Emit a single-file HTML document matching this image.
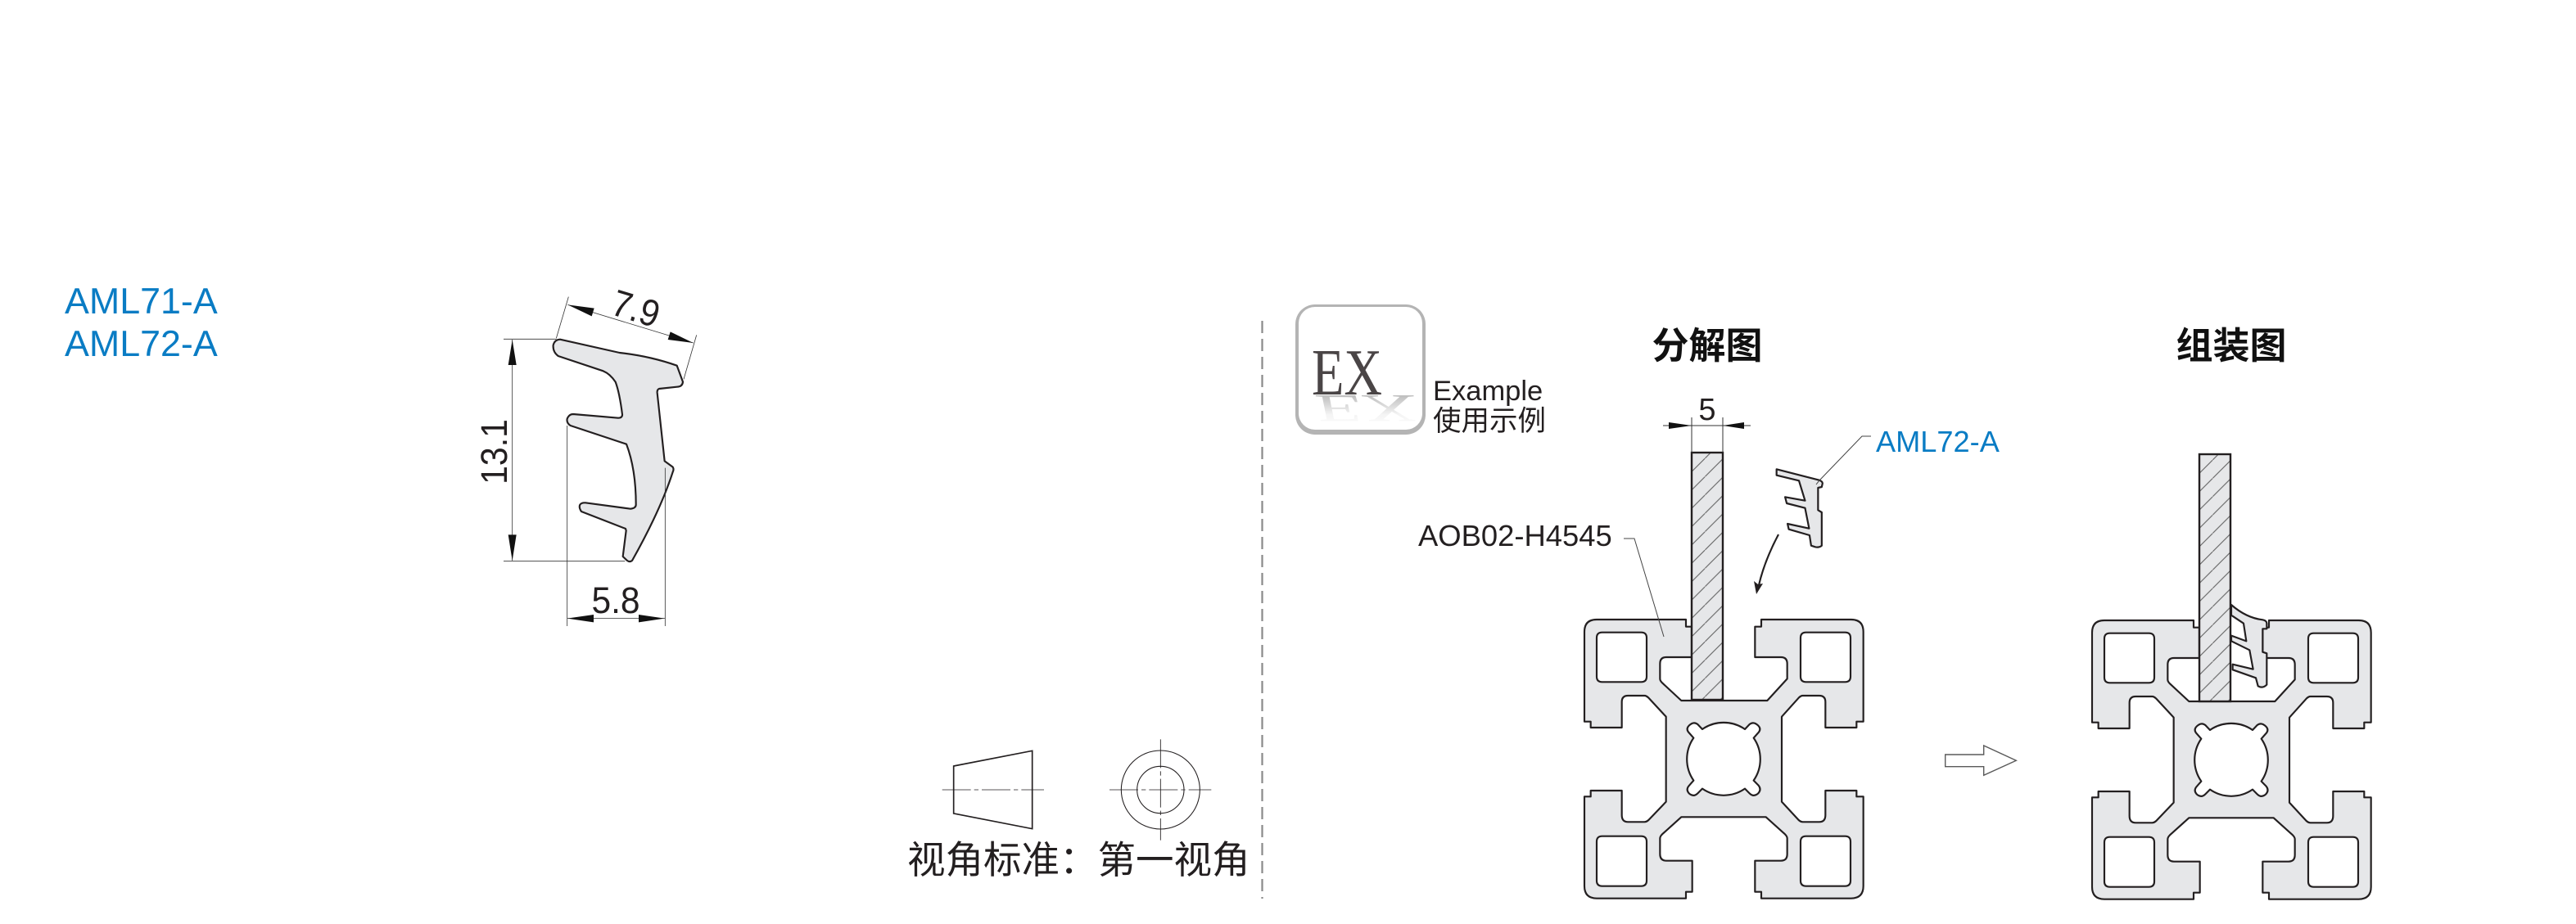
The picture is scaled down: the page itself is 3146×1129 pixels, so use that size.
<!DOCTYPE html>
<html lang="zh">
<head>
<meta charset="utf-8">
<style>
html,body{margin:0;padding:0;background:#fff}
svg{display:block}
text{font-family:"Liberation Sans","Noto Sans CJK SC",sans-serif}
</style>
</head>
<body>
<svg width="3146" height="1129" viewBox="0 0 3146 1129" xmlns="http://www.w3.org/2000/svg">
<defs>
<pattern id="hatch" patternUnits="userSpaceOnUse" x="-0.9" y="0" width="22.4" height="22.4">
<path d="M-2,24.4 L24.4,-2" stroke="#5a5a5a" stroke-width="1" fill="none"/>
</pattern>
<linearGradient id="refl" x1="0" y1="0" x2="0" y2="1">
<stop offset="0" stop-color="#ffffff"/>
<stop offset="0.35" stop-color="#f4f4f4"/>
<stop offset="0.8" stop-color="#bdbdbd"/>
<stop offset="1" stop-color="#b5b5b5"/>
</linearGradient>
<g id="profile">
<path fill="#e6e7e9" stroke="#231f20" stroke-width="6.5" stroke-linejoin="round" fill-rule="evenodd" d="M498,74 L477,74 L477,48 L150,48 Q105,48 105,93 L105,422 L128,422 L128,444 L242,444 L242,350 Q242,327 265,327 L325,327 Q332,327 340,335 L404,404 L404,716 L340,783 Q332,790 325,790 L265,790 Q242,790 242,765 L242,675 L128,675 L128,697 L105,697 L105,1025 Q105,1070 150,1070 L477,1070 L477,1046 L500,1046 L500,932 L405,932 Q382,932 382,908 L382,850 Q382,843 390,835 L460,772 L770,772 L840,835 Q848,843 848,850 L848,908 Q848,932 825,932 L730,932 L730,1046 L753,1046 L753,1070 L1082,1070 Q1127,1070 1127,1025 L1127,697 L1102,697 L1102,675 L988,675 L988,765 Q988,790 965,790 L905,790 Q898,790 890,783 L828,716 L828,404 L890,335 Q898,327 905,327 L965,327 Q988,327 988,350 L988,444 L1102,444 L1102,422 L1127,422 L1127,93 Q1127,48 1082,48 L753,48 L753,74 L730,74 L730,186 L825,186 Q848,186 848,210 L848,265 L775,345 L460,345 L390,280 Q382,272 382,265 L382,210 Q382,186 405,186 L498,186 Z
M170,95 L313,95 Q333,95 333,115 L333,257 Q333,277 313,277 L170,277 Q150,277 150,257 L150,115 Q150,95 170,95 Z
M917,95 L1060,95 Q1080,95 1080,115 L1080,257 Q1080,277 1060,277 L917,277 Q897,277 897,257 L897,115 Q897,95 917,95 Z
M170,842 L313,842 Q333,842 333,862 L333,1005 Q333,1025 313,1025 L170,1025 Q150,1025 150,1005 L150,862 Q150,842 170,842 Z
M917,842 L1060,842 Q1080,842 1080,862 L1080,1005 Q1080,1025 1060,1025 L917,1025 Q897,1025 897,1005 L897,862 Q897,842 917,842 Z
M537,450 A137,137 0 0 1 693,450 L710,432 Q725,420 742,437 Q755,450 740,465 L725,482 A137,137 0 0 1 725,638 L742,655 Q755,670 742,685 Q725,700 710,685 L693,668 A137,137 0 0 1 537,668 L520,685 Q505,700 488,685 Q475,670 490,655 L505,638 A137,137 0 0 1 505,482 L490,465 Q475,450 488,437 Q505,420 520,432 Z"/>
</g>
<g id="plate">
<rect x="2066" y="553" width="38" height="302" fill="#e6e7e9"/>
<rect x="2066" y="553" width="38" height="302" fill="url(#hatch)"/>
<rect x="2066" y="553" width="38" height="302" fill="none" stroke="#231f20" stroke-width="2.4"/>
</g>
</defs>

<!-- left labels -->
<text x="79" y="383" font-size="44.8" fill="#0a7cc4">AML71-A</text>
<text x="79" y="435" font-size="44.8" fill="#0a7cc4">AML72-A</text>

<!-- big seal with dimensions -->
<g transform="translate(560,320) scale(0.33333)">
<path d="M165,283 H358 M165,1097 H610 M197,285 V1095 M398,600 V1335 M757,755 V1335 M398,1307 H757 M403,128 L358,280 M872,268 L825,430 M400,157 L860,297" stroke="#333" stroke-width="2.4" fill="none"/>
<path d="M372,284 L590,333 Q700,345 800,380 L822,440 Q820,458 800,458 L735,465 Q727,468 728,480 L755,730 L785,752 Q790,760 785,770 Q740,910 636,1095 Q628,1102 618,1095 L602,1080 L614,985 L612,978 L450,915 Q440,900 445,890 Q450,882 465,883 L630,905 Q650,903 650,890 Q650,760 615,668 L410,600 Q395,590 398,575 Q405,558 420,558 L585,572 Q600,572 600,560 Q590,480 575,440 Q555,410 530,400 L365,345 Q345,330 347,305 Q352,285 372,284 Z" fill="#e6e7e9" stroke="#231f20" stroke-width="6.5" stroke-linejoin="round"/>
<path d="M757,755 V860" stroke="#333" stroke-width="2.4"/>
<path fill="#111" d="M197,285 L212,378 L182,378 Z M197,1095 L182,1000 L212,1000 Z M398,1307 L495,1293 L495,1321 Z M755,1307 L660,1293 L660,1321 Z M400,157 L497,170 L488,199 Z M860,297 L776,256 L767,285 Z"/>
</g>
<text font-size="42" fill="#231f20" text-anchor="middle" transform="translate(772,392) rotate(16.9) scale(1,1.09)" x="0" y="0">7.9</text>
<text font-size="41" fill="#231f20" text-anchor="middle" transform="translate(619,552) rotate(-90) scale(1,1.1)" x="0" y="0">13.1</text>
<text font-size="42.5" fill="#231f20" text-anchor="middle" transform="translate(752,749) scale(1,1.07)" x="0" y="0">5.8</text>

<!-- viewing angle symbol -->
<g transform="translate(1090,880) scale(0.33333)" fill="none" stroke="#231f20">
<path d="M224,168 L512,112 L512,398 L224,342 Z" stroke-width="5"/>
<path d="M182,255 H555" stroke-width="2.6" stroke-dasharray="105,12,16,12"/>
<circle cx="982" cy="255" r="144" stroke-width="3.2"/>
<circle cx="982" cy="255" r="86" stroke-width="3.2"/>
<path d="M795,255 H1168" stroke-width="2.6" stroke-dasharray="105,12,16,12"/>
<path d="M982,70 V440" stroke-width="2.6" stroke-dasharray="105,12,16,12"/>
</g>
<text x="1108" y="1067" font-size="46.5" fill="#231f20">视角标准：第一视角</text>

<!-- divider -->
<path d="M1541.5,392 V1098" stroke="#8a8a8a" stroke-width="2.2" stroke-dasharray="15,7" fill="none"/>

<!-- EX badge -->
<rect x="1582" y="372" width="159" height="159" rx="24" fill="#b4b4b4"/>
<rect x="1586" y="375" width="151" height="150" rx="20" fill="#fff"/>
<text font-size="80" fill="url(#refl)" textLength="124" lengthAdjust="spacingAndGlyphs" style="font-family:'Liberation Serif',serif" transform="matrix(1,0,-0.12,-0.6,1604,483)" x="0" y="0">EX</text>
<text x="1602" y="482" font-size="80" fill="#4a4546" textLength="86" lengthAdjust="spacingAndGlyphs" style="font-family:'Liberation Serif',serif">EX</text>
<text x="1750" y="489" font-size="34.5" fill="#231f20">Example</text>
<text x="1750" y="526" font-size="34.5" fill="#231f20">使用示例</text>

<!-- titles -->
<text x="2085" y="438" font-size="45" font-weight="700" fill="#111" text-anchor="middle">分解图</text>
<text x="2725" y="438" font-size="45" font-weight="700" fill="#111" text-anchor="middle">组装图</text>

<!-- exploded view -->
<use href="#profile" transform="translate(1900,741) scale(0.33333)"/>
<use href="#plate"/>
<path d="M2066,510 V553 M2104,510 V553 M2031,520 H2138" stroke="#333" stroke-width="1" fill="none"/>
<path fill="#111" d="M2066,520 L2038,516 V524 Z M2104,520 L2130,516 V524 Z"/>
<text x="2085" y="513" font-size="38" fill="#231f20" text-anchor="middle">5</text>

<g transform="translate(1700,470) scale(0.497,0.33333)">
<path d="M945,310 L1050,350 Q1058,355 1058,362 L1056,375 L1047,378 L1047,460 L1056,468 L1056,590 Q1050,598 1040,595 L1030,590 L1026,552 L975,530 L972,510 L1025,527 L1015,452 L970,435 L966,412 L1015,425 L1000,352 L945,332 Z" fill="#e6e7e9" stroke="#231f20" stroke-width="2.2" vector-effect="non-scaling-stroke" stroke-linejoin="round"/>
</g>
<path d="M2285,533 H2274 L2222,587 L2218,592" fill="none" stroke="#444" stroke-width="1"/>
<path d="M1983,658 H1996 L2032,778" fill="none" stroke="#444" stroke-width="1"/>
<path d="M2172,653 Q2155,685 2148,715" fill="none" stroke="#231f20" stroke-width="2.2"/>
<path d="M2145,726 L2142,710 L2147,714 L2153,713 Z" fill="#231f20"/>
<text x="2291" y="552" font-size="36.2" fill="#0a7cc4">AML72-A</text>
<text x="1732" y="667" font-size="36.4" fill="#231f20">AOB02-H4545</text>

<!-- hollow arrow -->
<path d="M2375.7,922 H2422.7 V911 L2462.3,929.3 L2422.7,947.3 V936.7 H2375.7 Z" fill="#fff" stroke="#5a5a5a" stroke-width="1.4"/>

<!-- assembled view -->
<g transform="translate(620,2)">
<use href="#profile" transform="translate(1900,740) scale(0.33333)"/>
<use href="#plate"/>
</g>
<g transform="translate(2660,640) scale(0.33333)">
<path d="M195,297 Q250,345 310,352 Q325,355 325,365 L325,385 L310,385 L310,470 L325,475 L325,590 Q310,605 293,595 L285,565 L200,535 L200,515 L275,533 L262,463 L195,430 L195,410 L250,430 L240,365 L195,335 Z" fill="#e6e7e9" stroke="#231f20" stroke-width="6.5" stroke-linejoin="round"/>
</g>
</svg>
</body>
</html>
